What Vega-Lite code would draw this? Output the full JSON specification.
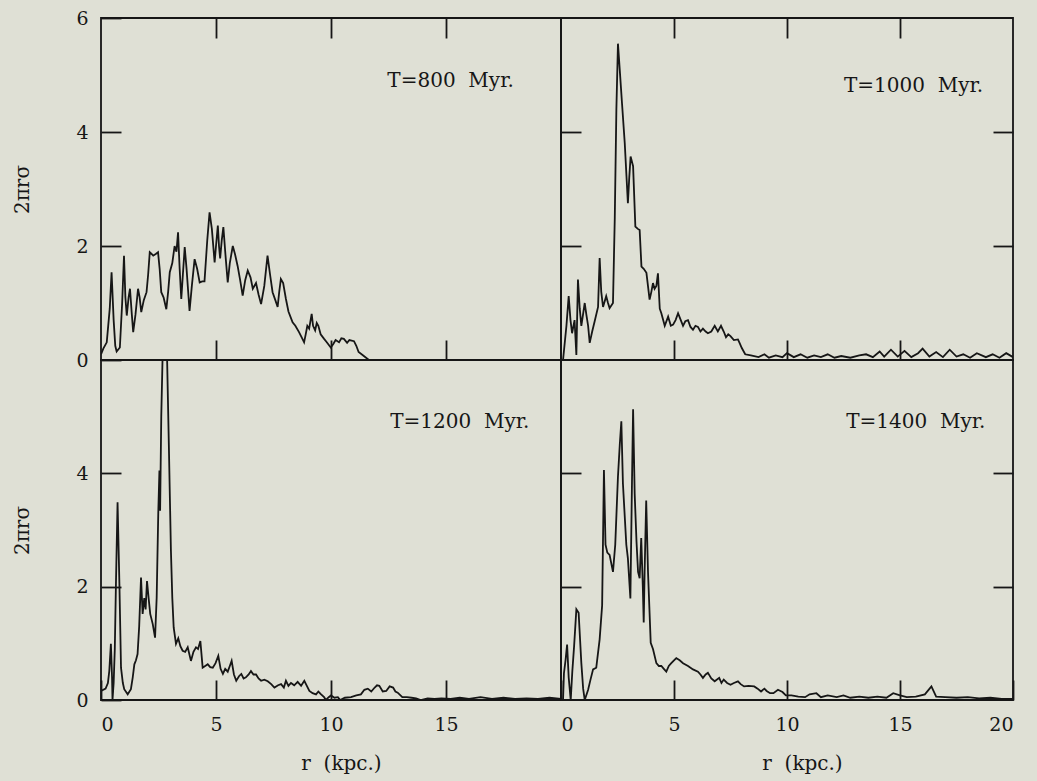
{
  "$schema": "https://vega.github.io/schema/vega-lite/v6.json",
  "background": "#dfe0d5",
  "padding": {"left": 11, "top": 8, "right": 24, "bottom": 8},
  "bounds": "flush",
  "spacing": 0,
  "columns": 2,
  "config": {
    "view": {"stroke": "#161616", "strokeWidth": 1.8, "fill": null},
    "axis": {
      "domain": false, "grid": false,
      "tickSize": -20, "tickWidth": 1.8, "tickColor": "#161616",
      "labelFont": "DejaVu Serif", "labelFontSize": 19, "labelColor": "#161616",
      "titleFont": "DejaVu Serif", "titleFontSize": 20, "titleFontWeight": "normal", "titleColor": "#161616"
    },
    "text": {"font": "DejaVu Serif", "fontSize": 20, "color": "#161616"},
    "line": {"stroke": "#161616", "strokeWidth": 1.8}
  },
  "datasets": {
    "t800": [
      {"r":0,"s":0.1},{"r":0.1,"s":0.2},{"r":0.25,"s":0.31},{"r":0.38,"s":0.9},{"r":0.46,"s":1.54},{"r":0.55,"s":0.7},{"r":0.62,"s":0.25},{"r":0.68,"s":0.15},{"r":0.82,"s":0.22},{"r":0.92,"s":1.0},{"r":1.0,"s":1.83},{"r":1.06,"s":1.1},{"r":1.12,"s":0.78},{"r":1.2,"s":1.1},{"r":1.26,"s":1.25},{"r":1.34,"s":0.8},{"r":1.4,"s":0.49},{"r":1.5,"s":0.8},{"r":1.61,"s":1.25},{"r":1.68,"s":1.1},{"r":1.75,"s":0.84},{"r":1.86,"s":1.05},{"r":1.98,"s":1.19},{"r":2.05,"s":1.5},{"r":2.12,"s":1.89},{"r":2.2,"s":1.86},{"r":2.27,"s":1.83},{"r":2.38,"s":1.86},{"r":2.48,"s":1.89},{"r":2.55,"s":1.6},{"r":2.62,"s":1.19},{"r":2.72,"s":1.1},{"r":2.84,"s":0.89},{"r":2.92,"s":1.2},{"r":2.99,"s":1.54},{"r":3.1,"s":1.7},{"r":3.2,"s":2.0},{"r":3.28,"s":1.9},{"r":3.35,"s":2.24},{"r":3.42,"s":1.6},{"r":3.49,"s":1.07},{"r":3.56,"s":1.5},{"r":3.64,"s":1.98},{"r":3.72,"s":1.6},{"r":3.85,"s":0.86},{"r":3.95,"s":1.3},{"r":4.07,"s":1.77},{"r":4.18,"s":1.6},{"r":4.29,"s":1.36},{"r":4.4,"s":1.38},{"r":4.5,"s":1.38},{"r":4.62,"s":2.1},{"r":4.72,"s":2.59},{"r":4.82,"s":2.3},{"r":4.94,"s":1.71},{"r":5.0,"s":2.0},{"r":5.08,"s":2.36},{"r":5.13,"s":2.0},{"r":5.18,"s":1.78},{"r":5.25,"s":2.1},{"r":5.32,"s":2.33},{"r":5.42,"s":1.8},{"r":5.51,"s":1.36},{"r":5.6,"s":1.7},{"r":5.73,"s":2.0},{"r":5.83,"s":1.85},{"r":5.94,"s":1.65},{"r":6.05,"s":1.4},{"r":6.16,"s":1.13},{"r":6.27,"s":1.4},{"r":6.38,"s":1.57},{"r":6.5,"s":1.45},{"r":6.6,"s":1.25},{"r":6.74,"s":1.35},{"r":6.85,"s":1.15},{"r":6.96,"s":0.98},{"r":7.1,"s":1.3},{"r":7.24,"s":1.83},{"r":7.35,"s":1.5},{"r":7.46,"s":1.19},{"r":7.58,"s":1.05},{"r":7.68,"s":0.93},{"r":7.75,"s":1.2},{"r":7.82,"s":1.42},{"r":7.92,"s":1.35},{"r":8.04,"s":1.07},{"r":8.15,"s":0.85},{"r":8.33,"s":0.66},{"r":8.45,"s":0.6},{"r":8.61,"s":0.49},{"r":8.72,"s":0.4},{"r":8.83,"s":0.31},{"r":8.9,"s":0.45},{"r":8.97,"s":0.6},{"r":9.05,"s":0.55},{"r":9.16,"s":0.81},{"r":9.22,"s":0.6},{"r":9.31,"s":0.52},{"r":9.38,"s":0.65},{"r":9.45,"s":0.6},{"r":9.55,"s":0.45},{"r":9.7,"s":0.37},{"r":9.8,"s":0.32},{"r":9.99,"s":0.22},{"r":10.1,"s":0.28},{"r":10.2,"s":0.35},{"r":10.35,"s":0.31},{"r":10.45,"s":0.38},{"r":10.56,"s":0.37},{"r":10.7,"s":0.3},{"r":10.8,"s":0.35},{"r":11.0,"s":0.33},{"r":11.1,"s":0.25},{"r":11.2,"s":0.14},{"r":11.4,"s":0.08},{"r":11.65,"s":0.0},{"r":12.0,"s":0.0}
    ],
    "t1000": [
      {"r":0,"s":0},{"r":0.09,"s":0.0},{"r":0.24,"s":0.6},{"r":0.34,"s":1.12},{"r":0.42,"s":0.7},{"r":0.49,"s":0.47},{"r":0.6,"s":0.7},{"r":0.68,"s":0.09},{"r":0.75,"s":1.41},{"r":0.83,"s":0.9},{"r":0.9,"s":0.6},{"r":1.05,"s":1.0},{"r":1.12,"s":0.8},{"r":1.2,"s":0.6},{"r":1.27,"s":0.3},{"r":1.38,"s":0.5},{"r":1.49,"s":0.68},{"r":1.64,"s":0.93},{"r":1.71,"s":1.79},{"r":1.78,"s":1.2},{"r":1.86,"s":0.93},{"r":2.0,"s":1.12},{"r":2.08,"s":1.0},{"r":2.15,"s":0.91},{"r":2.3,"s":1.0},{"r":2.38,"s":2.5},{"r":2.45,"s":4.39},{"r":2.52,"s":5.55},{"r":2.6,"s":5.09},{"r":2.7,"s":4.5},{"r":2.82,"s":3.81},{"r":2.96,"s":2.75},{"r":3.02,"s":3.2},{"r":3.08,"s":3.57},{"r":3.19,"s":3.4},{"r":3.29,"s":2.34},{"r":3.4,"s":2.3},{"r":3.48,"s":2.28},{"r":3.56,"s":1.64},{"r":3.66,"s":1.6},{"r":3.78,"s":1.53},{"r":3.92,"s":1.06},{"r":4.0,"s":1.2},{"r":4.07,"s":1.35},{"r":4.14,"s":1.25},{"r":4.22,"s":1.3},{"r":4.29,"s":1.52},{"r":4.37,"s":0.9},{"r":4.44,"s":0.82},{"r":4.59,"s":0.6},{"r":4.74,"s":0.76},{"r":4.86,"s":0.6},{"r":4.96,"s":0.62},{"r":5.07,"s":0.7},{"r":5.18,"s":0.82},{"r":5.3,"s":0.7},{"r":5.4,"s":0.6},{"r":5.5,"s":0.68},{"r":5.62,"s":0.7},{"r":5.73,"s":0.58},{"r":5.84,"s":0.53},{"r":5.95,"s":0.6},{"r":6.06,"s":0.58},{"r":6.17,"s":0.5},{"r":6.28,"s":0.55},{"r":6.4,"s":0.5},{"r":6.5,"s":0.47},{"r":6.65,"s":0.5},{"r":6.8,"s":0.6},{"r":6.94,"s":0.5},{"r":7.08,"s":0.6},{"r":7.2,"s":0.5},{"r":7.3,"s":0.4},{"r":7.4,"s":0.45},{"r":7.5,"s":0.42},{"r":7.65,"s":0.35},{"r":7.83,"s":0.36},{"r":7.9,"s":0.3},{"r":8.0,"s":0.21},{"r":8.15,"s":0.1},{"r":8.4,"s":0.08},{"r":8.74,"s":0.05},{"r":9.0,"s":0.1},{"r":9.2,"s":0.04},{"r":9.5,"s":0.08},{"r":9.8,"s":0.05},{"r":10.0,"s":0.12},{"r":10.3,"s":0.05},{"r":10.6,"s":0.1},{"r":10.9,"s":0.04},{"r":11.2,"s":0.08},{"r":11.5,"s":0.05},{"r":11.8,"s":0.1},{"r":12.1,"s":0.04},{"r":12.4,"s":0.07},{"r":12.8,"s":0.04},{"r":13.2,"s":0.08},{"r":13.5,"s":0.1},{"r":13.8,"s":0.05},{"r":14.1,"s":0.15},{"r":14.3,"s":0.06},{"r":14.6,"s":0.18},{"r":14.9,"s":0.06},{"r":15.2,"s":0.16},{"r":15.5,"s":0.05},{"r":15.8,"s":0.12},{"r":16.0,"s":0.2},{"r":16.3,"s":0.06},{"r":16.6,"s":0.14},{"r":16.9,"s":0.05},{"r":17.2,"s":0.18},{"r":17.5,"s":0.06},{"r":17.8,"s":0.1},{"r":18.1,"s":0.04},{"r":18.4,"s":0.12},{"r":18.8,"s":0.05},{"r":19.1,"s":0.1},{"r":19.4,"s":0.04},{"r":19.7,"s":0.12},{"r":20.0,"s":0.05}
    ],
    "t1200": [
      {"r":0,"s":0.16},{"r":0.2,"s":0.2},{"r":0.3,"s":0.3},{"r":0.36,"s":0.51},{"r":0.43,"s":0.99},{"r":0.48,"s":0.4},{"r":0.5,"s":0.0},{"r":0.55,"s":0.3},{"r":0.6,"s":0.9},{"r":0.65,"s":2.05},{"r":0.72,"s":3.49},{"r":0.8,"s":2.05},{"r":0.87,"s":0.57},{"r":0.95,"s":0.3},{"r":1.01,"s":0.19},{"r":1.16,"s":0.1},{"r":1.3,"s":0.19},{"r":1.38,"s":0.4},{"r":1.45,"s":0.63},{"r":1.52,"s":0.7},{"r":1.59,"s":0.81},{"r":1.66,"s":1.3},{"r":1.74,"s":2.16},{"r":1.81,"s":1.52},{"r":1.88,"s":1.8},{"r":1.94,"s":1.6},{"r":2.0,"s":2.1},{"r":2.07,"s":1.8},{"r":2.14,"s":1.52},{"r":2.25,"s":1.34},{"r":2.35,"s":1.1},{"r":2.42,"s":1.8},{"r":2.49,"s":3.3},{"r":2.54,"s":4.05},{"r":2.57,"s":3.34},{"r":2.62,"s":5.0},{"r":2.68,"s":6.1},{"r":2.78,"s":6.2},{"r":2.87,"s":6.1},{"r":2.95,"s":4.5},{"r":3.04,"s":2.64},{"r":3.1,"s":1.8},{"r":3.16,"s":1.28},{"r":3.26,"s":0.99},{"r":3.36,"s":1.09},{"r":3.45,"s":0.95},{"r":3.55,"s":0.87},{"r":3.66,"s":0.85},{"r":3.77,"s":0.93},{"r":3.91,"s":0.69},{"r":4.02,"s":0.85},{"r":4.13,"s":0.93},{"r":4.22,"s":0.9},{"r":4.32,"s":1.04},{"r":4.42,"s":0.57},{"r":4.53,"s":0.6},{"r":4.64,"s":0.63},{"r":4.75,"s":0.58},{"r":4.86,"s":0.57},{"r":4.98,"s":0.65},{"r":5.1,"s":0.78},{"r":5.2,"s":0.55},{"r":5.3,"s":0.46},{"r":5.4,"s":0.55},{"r":5.51,"s":0.5},{"r":5.6,"s":0.6},{"r":5.68,"s":0.69},{"r":5.78,"s":0.45},{"r":5.88,"s":0.34},{"r":6.0,"s":0.42},{"r":6.1,"s":0.46},{"r":6.2,"s":0.38},{"r":6.3,"s":0.4},{"r":6.42,"s":0.45},{"r":6.52,"s":0.51},{"r":6.63,"s":0.45},{"r":6.74,"s":0.45},{"r":6.85,"s":0.38},{"r":6.96,"s":0.34},{"r":7.1,"s":0.36},{"r":7.25,"s":0.33},{"r":7.4,"s":0.28},{"r":7.54,"s":0.22},{"r":7.7,"s":0.26},{"r":7.83,"s":0.28},{"r":7.95,"s":0.22},{"r":8.04,"s":0.34},{"r":8.15,"s":0.25},{"r":8.26,"s":0.3},{"r":8.4,"s":0.26},{"r":8.55,"s":0.32},{"r":8.7,"s":0.25},{"r":8.84,"s":0.34},{"r":8.95,"s":0.25},{"r":9.06,"s":0.16},{"r":9.2,"s":0.12},{"r":9.35,"s":0.1},{"r":9.45,"s":0.15},{"r":9.57,"s":0.1},{"r":9.7,"s":0.05},{"r":9.78,"s":0.0},{"r":9.9,"s":0.05},{"r":10.0,"s":0.08},{"r":10.15,"s":0.04},{"r":10.3,"s":0.05},{"r":10.4,"s":0.0},{"r":10.6,"s":0.04},{"r":10.87,"s":0.05},{"r":11.1,"s":0.08},{"r":11.3,"s":0.1},{"r":11.45,"s":0.18},{"r":11.6,"s":0.2},{"r":11.75,"s":0.15},{"r":11.9,"s":0.22},{"r":12.0,"s":0.26},{"r":12.1,"s":0.25},{"r":12.25,"s":0.15},{"r":12.4,"s":0.16},{"r":12.55,"s":0.24},{"r":12.7,"s":0.22},{"r":12.8,"s":0.15},{"r":12.9,"s":0.13},{"r":13.1,"s":0.05},{"r":13.3,"s":0.05},{"r":13.5,"s":0.04},{"r":13.7,"s":0.03},{"r":13.9,"s":0.0},{"r":14.2,"s":0.03},{"r":14.5,"s":0.02},{"r":14.8,"s":0.03},{"r":15.2,"s":0.02},{"r":15.6,"s":0.04},{"r":16.0,"s":0.02},{"r":16.5,"s":0.05},{"r":17.0,"s":0.02},{"r":17.5,"s":0.04},{"r":18.0,"s":0.02},{"r":18.5,"s":0.03},{"r":19.0,"s":0.02},{"r":19.5,"s":0.04},{"r":20.0,"s":0.02}
    ],
    "t1400": [
      {"r":0,"s":0},{"r":0.09,"s":0.0},{"r":0.13,"s":0.47},{"r":0.2,"s":0.7},{"r":0.27,"s":0.98},{"r":0.34,"s":0.4},{"r":0.43,"s":0.0},{"r":0.5,"s":0.5},{"r":0.58,"s":0.95},{"r":0.68,"s":1.6},{"r":0.78,"s":1.54},{"r":0.9,"s":0.65},{"r":0.98,"s":0.2},{"r":1.05,"s":0.0},{"r":1.2,"s":0.18},{"r":1.3,"s":0.35},{"r":1.42,"s":0.54},{"r":1.56,"s":0.57},{"r":1.71,"s":1.07},{"r":1.82,"s":1.67},{"r":1.9,"s":4.06},{"r":1.97,"s":2.74},{"r":2.05,"s":2.6},{"r":2.15,"s":2.56},{"r":2.3,"s":2.26},{"r":2.4,"s":2.74},{"r":2.52,"s":3.94},{"r":2.6,"s":4.5},{"r":2.67,"s":4.92},{"r":2.74,"s":3.82},{"r":2.89,"s":2.74},{"r":2.96,"s":2.5},{"r":3.07,"s":1.79},{"r":3.14,"s":3.82},{"r":3.19,"s":5.13},{"r":3.26,"s":3.64},{"r":3.34,"s":2.8},{"r":3.41,"s":2.26},{"r":3.48,"s":2.15},{"r":3.55,"s":2.86},{"r":3.62,"s":2.0},{"r":3.66,"s":1.37},{"r":3.7,"s":2.26},{"r":3.77,"s":3.52},{"r":3.85,"s":2.26},{"r":3.97,"s":1.01},{"r":4.07,"s":0.9},{"r":4.22,"s":0.65},{"r":4.33,"s":0.6},{"r":4.44,"s":0.6},{"r":4.55,"s":0.55},{"r":4.66,"s":0.5},{"r":4.77,"s":0.6},{"r":4.88,"s":0.65},{"r":5.0,"s":0.7},{"r":5.1,"s":0.74},{"r":5.25,"s":0.7},{"r":5.4,"s":0.65},{"r":5.62,"s":0.6},{"r":5.84,"s":0.54},{"r":6.06,"s":0.5},{"r":6.17,"s":0.45},{"r":6.28,"s":0.39},{"r":6.4,"s":0.45},{"r":6.5,"s":0.48},{"r":6.65,"s":0.38},{"r":6.8,"s":0.33},{"r":7.0,"s":0.39},{"r":7.1,"s":0.3},{"r":7.2,"s":0.36},{"r":7.35,"s":0.3},{"r":7.5,"s":0.27},{"r":7.65,"s":0.3},{"r":7.83,"s":0.33},{"r":7.95,"s":0.28},{"r":8.1,"s":0.24},{"r":8.3,"s":0.25},{"r":8.55,"s":0.24},{"r":8.7,"s":0.2},{"r":8.85,"s":0.15},{"r":9.0,"s":0.2},{"r":9.1,"s":0.16},{"r":9.25,"s":0.12},{"r":9.4,"s":0.12},{"r":9.6,"s":0.18},{"r":9.8,"s":0.14},{"r":9.95,"s":0.08},{"r":10.2,"s":0.08},{"r":10.5,"s":0.06},{"r":10.8,"s":0.05},{"r":11.0,"s":0.1},{"r":11.3,"s":0.12},{"r":11.5,"s":0.05},{"r":11.8,"s":0.08},{"r":12.2,"s":0.05},{"r":12.5,"s":0.08},{"r":12.8,"s":0.04},{"r":13.2,"s":0.06},{"r":13.6,"s":0.04},{"r":14.0,"s":0.06},{"r":14.4,"s":0.04},{"r":14.7,"s":0.12},{"r":15.0,"s":0.08},{"r":15.3,"s":0.05},{"r":15.7,"s":0.06},{"r":16.1,"s":0.1},{"r":16.39,"s":0.24},{"r":16.6,"s":0.06},{"r":17.0,"s":0.05},{"r":17.5,"s":0.04},{"r":18.0,"s":0.05},{"r":18.5,"s":0.03},{"r":19.0,"s":0.04},{"r":19.5,"s":0.02},{"r":20.0,"s":0.02}
    ]
  },
  "concat": [
    {
      "width": 460, "height": 342,
      "layer": [
        {
          "data": {"name": "t800"},
          "mark": {"type": "line", "clip": true},
          "encoding": {
            "x": {"field": "r", "type": "quantitative", "scale": {"domain": [0, 20], "nice": false, "zero": false},
                  "axis": {"orient": "bottom", "values": [5, 10, 15], "labels": false, "title": null}},
            "y": {"field": "s", "type": "quantitative", "scale": {"domain": [0, 6], "nice": false},
                  "axis": {"orient": "left", "values": [0, 2, 4, 6], "labelPadding": 33, "title": "2πrσ", "titleX": -79, "titleY": 171, "titleBaseline": "middle", "titleAlign": "center", "titleAngle": -90}}
          }
        },
        {
          "data": {"values": [{"label": "T=800\u00a0\u00a0Myr."}]},
          "mark": {"type": "text"},
          "encoding": {
            "x": {"datum": 15.2, "type": "quantitative", "axis": {"orient": "top", "values": [5, 10, 15], "labels": false, "title": null}},
            "y": {"datum": 4.9, "type": "quantitative", "axis": null},
            "text": {"field": "label"}
          }
        }
      ],
      "resolve": {"axis": {"x": "independent", "y": "independent"}}
    },
    {
      "width": 452, "height": 342,
      "layer": [
        {
          "data": {"name": "t1000"},
          "mark": {"type": "line", "clip": true},
          "encoding": {
            "x": {"field": "r", "type": "quantitative", "scale": {"domain": [0, 20], "nice": false, "zero": false},
                  "axis": {"orient": "bottom", "values": [5, 10, 15], "labels": false, "title": null}},
            "y": {"field": "s", "type": "quantitative", "scale": {"domain": [0, 6], "nice": false},
                  "axis": {"orient": "left", "values": [2, 4], "labels": false, "title": null}}
          }
        },
        {
          "data": {"values": [{"label": "T=1000\u00a0\u00a0Myr."}]},
          "mark": {"type": "text"},
          "encoding": {
            "x": {"datum": 15.6, "type": "quantitative", "axis": {"orient": "top", "values": [5, 10, 15], "labels": false, "title": null}},
            "y": {"datum": 4.8, "type": "quantitative", "axis": {"orient": "right", "values": [2, 4], "labels": false, "title": null}},
            "text": {"field": "label"}
          }
        }
      ],
      "resolve": {"axis": {"x": "independent", "y": "independent"}}
    },
    {
      "width": 460, "height": 340,
      "layer": [
        {
          "data": {"name": "t1200"},
          "mark": {"type": "line", "clip": true},
          "encoding": {
            "x": {"field": "r", "type": "quantitative", "scale": {"domain": [0, 20], "nice": false, "zero": false},
                  "axis": {"orient": "bottom", "values": [0, 5, 10, 15], "labelPadding": 35, "title": "r\u00a0\u00a0(kpc.)", "titleX": 240, "titleY": 63, "titleBaseline": "middle", "titleAlign": "center"}},
            "y": {"field": "s", "type": "quantitative", "scale": {"domain": [0, 6], "nice": false},
                  "axis": {"orient": "left", "values": [0, 2, 4], "labelPadding": 33, "title": "2πrσ", "titleX": -79, "titleY": 170, "titleBaseline": "middle", "titleAlign": "center", "titleAngle": -90}}
          }
        },
        {
          "data": {"values": [{"label": "T=1200\u00a0\u00a0Myr."}]},
          "mark": {"type": "text"},
          "encoding": {
            "x": {"datum": 15.6, "type": "quantitative", "axis": null},
            "y": {"datum": 4.9, "type": "quantitative", "axis": null},
            "text": {"field": "label"}
          }
        }
      ],
      "resolve": {"axis": {"x": "independent", "y": "independent"}}
    },
    {
      "width": 452, "height": 340,
      "layer": [
        {
          "data": {"name": "t1400"},
          "mark": {"type": "line", "clip": true},
          "encoding": {
            "x": {"field": "r", "type": "quantitative", "scale": {"domain": [0, 20], "nice": false, "zero": false},
                  "axis": {"orient": "bottom", "values": [0, 5, 10, 15, 20], "labelPadding": 35, "title": "r\u00a0\u00a0(kpc.)", "titleX": 241, "titleY": 63, "titleBaseline": "middle", "titleAlign": "center"}},
            "y": {"field": "s", "type": "quantitative", "scale": {"domain": [0, 6], "nice": false},
                  "axis": {"orient": "left", "values": [2, 4], "labels": false, "title": null}}
          }
        },
        {
          "data": {"values": [{"label": "T=1400\u00a0\u00a0Myr."}]},
          "mark": {"type": "text"},
          "encoding": {
            "x": {"datum": 15.7, "type": "quantitative", "axis": null},
            "y": {"datum": 4.9, "type": "quantitative", "axis": {"orient": "right", "values": [2, 4], "labels": false, "title": null}},
            "text": {"field": "label"}
          }
        }
      ],
      "resolve": {"axis": {"x": "independent", "y": "independent"}}
    }
  ]
}
